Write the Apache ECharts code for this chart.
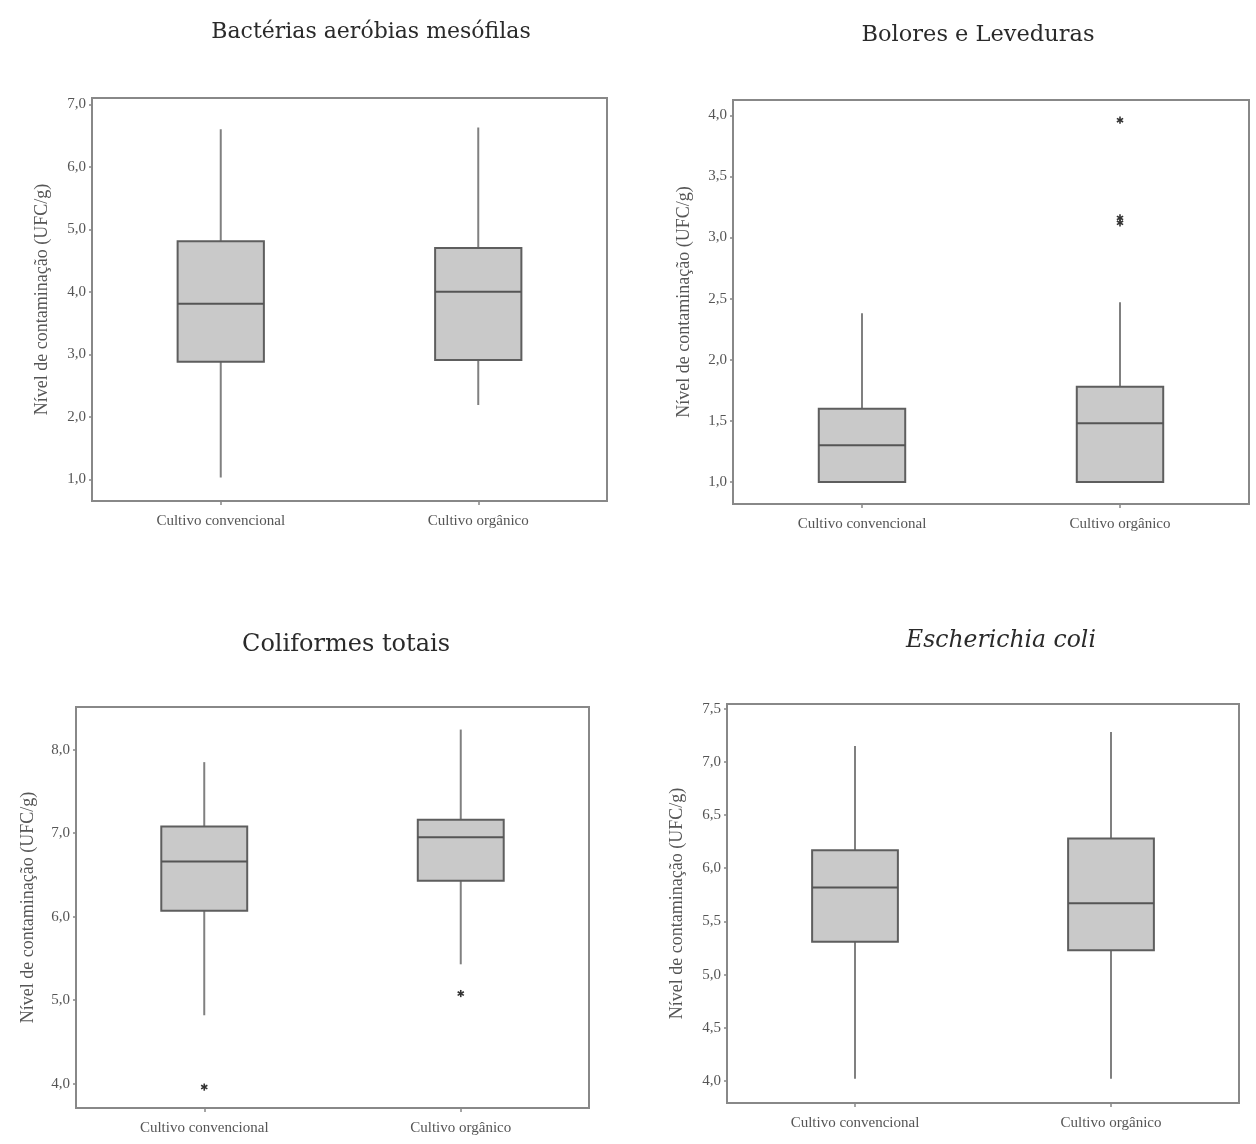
<!DOCTYPE html>
<html>
<head>
<meta charset="utf-8">
<title>Nível de contaminação</title>
<script src="https://cdn.jsdelivr.net/npm/echarts@6/dist/echarts.min.js"></script>
<style>
  html, body { margin: 0; padding: 0; background: #fff; }
  #chart { width: 1256px; height: 1144px; }
</style>
</head>
<body>
<div id="chart"></div>
<script>
  // categorias e valores: [mín, Q1, mediana, Q3, máx]
  var categorias = ['Cultivo convencional', 'Cultivo orgânico'];

  var bacteriasConv = [1.03, 2.88, 3.81, 4.81, 6.60];
  var bacteriasOrg = [2.19, 2.91, 4.00, 4.70, 6.63];

  var boloresConv = [1.00, 1.00, 1.30, 1.60, 2.38];
  var boloresOrg = [1.00, 1.00, 1.48, 1.78, 2.47];
  var boloresOutOrg = [3.96, 3.16, 3.12];

  var coliformesConv = [4.82, 6.07, 6.66, 7.08, 7.85];
  var coliformesOrg = [5.43, 6.43, 6.95, 7.16, 8.24];
  var coliformesOutConv = [3.96];
  var coliformesOutOrg = [5.08];

  var ecoliConv = [4.02, 5.31, 5.82, 6.17, 7.15];
  var ecoliOrg = [4.02, 5.23, 5.67, 6.28, 7.28];

  // marcas do eixo y
  var ticksBacterias = [1, 2, 3, 4, 5, 6, 7];
  var ticksBolores = [1, 1.5, 2, 2.5, 3, 3.5, 4];
  var ticksColiformes = [4, 5, 6, 7, 8];
  var ticksEcoli = [4, 4.5, 5, 5.5, 6, 6.5, 7, 7.5];

  var nomeEixo = 'Nível de contaminação (UFC/g)';
  var serif = 'Liberation Serif';

  var myChart = echarts.init(document.getElementById('chart'));

  function caixa(conv, org) {
    return [[0].concat(conv), [1].concat(org)];
  }

  function pontos(conv, org) {
    var out = [];
    conv.map(function (v) { out.push([0, v]); });
    org.map(function (v) { out.push([1, v]); });
    return out;
  }

  function renderBox(params, api) {
    var x = api.value(0);
    var lo = api.coord([x, api.value(1)]);
    var q1 = api.coord([x, api.value(2)]);
    var med = api.coord([x, api.value(3)]);
    var q3 = api.coord([x, api.value(4)]);
    var hi = api.coord([x, api.value(5)]);
    var w = api.size([1, 0])[0] * 0.335;
    return {
      type: 'group',
      children: [
        { type: 'line', shape: { x1: lo[0], y1: lo[1], x2: hi[0], y2: hi[1] },
          style: { stroke: '#808080', lineWidth: 2 } },
        { type: 'rect', shape: { x: q3[0] - w / 2, y: q3[1], width: w, height: q1[1] - q3[1] },
          style: { fill: '#c9c9c9', stroke: '#5e5e5e', lineWidth: 2 } },
        { type: 'line', shape: { x1: med[0] - w / 2, y1: med[1], x2: med[0] + w / 2, y2: med[1] },
          style: { stroke: '#555555', lineWidth: 2 } }
      ]
    };
  }

  function renderStar(params, api) {
    var p = api.coord([api.value(0), api.value(1)]);
    var r = 3.6;
    var kids = [];
    [90, 30, 150].map(function (a) {
      var dx = r * Math.cos(a * Math.PI / 180);
      var dy = r * Math.sin(a * Math.PI / 180);
      kids.push({ type: 'line', shape: { x1: p[0] - dx, y1: p[1] - dy, x2: p[0] + dx, y2: p[1] + dy },
        style: { stroke: '#333', lineWidth: 1.6 } });
    });
    return { type: 'group', children: kids };
  }

  function fmt(v) {
    return v.toFixed(1).replace('.', ',');
  }

  function eixoX(i) {
    return {
      type: 'category',
      gridIndex: i,
      data: categorias,
      boundaryGap: true,
      axisLine: { show: true, lineStyle: { color: '#888', width: 2 } },
      axisTick: { show: true, alignWithLabel: true, length: 4, lineStyle: { color: '#888', width: 1.5 } },
      axisLabel: { color: '#555', fontFamily: serif, fontSize: 15, margin: 13 },
      splitLine: { show: false }
    };
  }

  function eixoY(i, min, max, ticks, gap) {
    return {
      type: 'value',
      gridIndex: i,
      min: min,
      max: max,
      name: nomeEixo,
      nameLocation: 'middle',
      nameGap: gap,
      nameRotate: 90,
      nameTextStyle: { color: '#555', fontFamily: serif, fontSize: 18 },
      axisLine: { show: true, lineStyle: { color: '#888', width: 2 } },
      axisTick: { show: true, customValues: ticks, length: 3, lineStyle: { color: '#888', width: 1.5 } },
      axisLabel: { customValues: ticks, formatter: fmt, color: '#555', fontFamily: serif, fontSize: 15, margin: 6 },
      splitLine: { show: false }
    };
  }

  function titulo(text, x, y, size, italic) {
    return {
      text: text,
      left: x,
      top: y,
      padding: 0,
      textAlign: 'center',
      textVerticalAlign: 'middle',
      textStyle: { color: '#2a2a2a', fontFamily: 'DejaVu Serif', fontSize: size,
        fontWeight: 'normal', fontStyle: italic ? 'italic' : 'normal' }
    };
  }

  var gridStyle = { show: true, borderColor: '#888', borderWidth: 2, containLabel: false };

  var option = {
    backgroundColor: '#fff',
    animation: false,
    title: [
      titulo('Bactérias aeróbias mesófilas', 371, 32, 22, false),
      titulo('Bolores e Leveduras', 978, 35, 22.5, false),
      titulo('Coliformes totais', 346, 645, 24, false),
      titulo('Escherichia coli', 1001, 641, 23.5, true)
    ],
    grid: [
      Object.assign({ left: 92, top: 98, width: 515, height: 403 }, gridStyle),
      Object.assign({ left: 733, top: 100, width: 516, height: 404 }, gridStyle),
      Object.assign({ left: 76, top: 707, width: 513, height: 401 }, gridStyle),
      Object.assign({ left: 727, top: 704, width: 512, height: 399 }, gridStyle)
    ],
    xAxis: [eixoX(0), eixoX(1), eixoX(2), eixoX(3)],
    yAxis: [
      eixoY(0, 0.653, 7.10, ticksBacterias, 41),
      eixoY(1, 0.82, 4.125, ticksBolores, 40),
      eixoY(2, 3.71, 8.51, ticksColiformes, 39),
      eixoY(3, 3.793, 7.544, ticksEcoli, 41)
    ],
    series: [
      { type: 'custom', xAxisIndex: 0, yAxisIndex: 0, renderItem: renderBox,
        encode: { x: 0, y: [1, 2, 3, 4, 5] }, data: caixa(bacteriasConv, bacteriasOrg) },
      { type: 'custom', xAxisIndex: 1, yAxisIndex: 1, renderItem: renderBox,
        encode: { x: 0, y: [1, 2, 3, 4, 5] }, data: caixa(boloresConv, boloresOrg) },
      { type: 'custom', xAxisIndex: 1, yAxisIndex: 1, renderItem: renderStar,
        encode: { x: 0, y: 1 }, data: pontos([], boloresOutOrg) },
      { type: 'custom', xAxisIndex: 2, yAxisIndex: 2, renderItem: renderBox,
        encode: { x: 0, y: [1, 2, 3, 4, 5] }, data: caixa(coliformesConv, coliformesOrg) },
      { type: 'custom', xAxisIndex: 2, yAxisIndex: 2, renderItem: renderStar,
        encode: { x: 0, y: 1 }, data: pontos(coliformesOutConv, coliformesOutOrg) },
      { type: 'custom', xAxisIndex: 3, yAxisIndex: 3, renderItem: renderBox,
        encode: { x: 0, y: [1, 2, 3, 4, 5] }, data: caixa(ecoliConv, ecoliOrg) }
    ]
  };

  myChart.setOption(option);
</script>
</body>
</html>
